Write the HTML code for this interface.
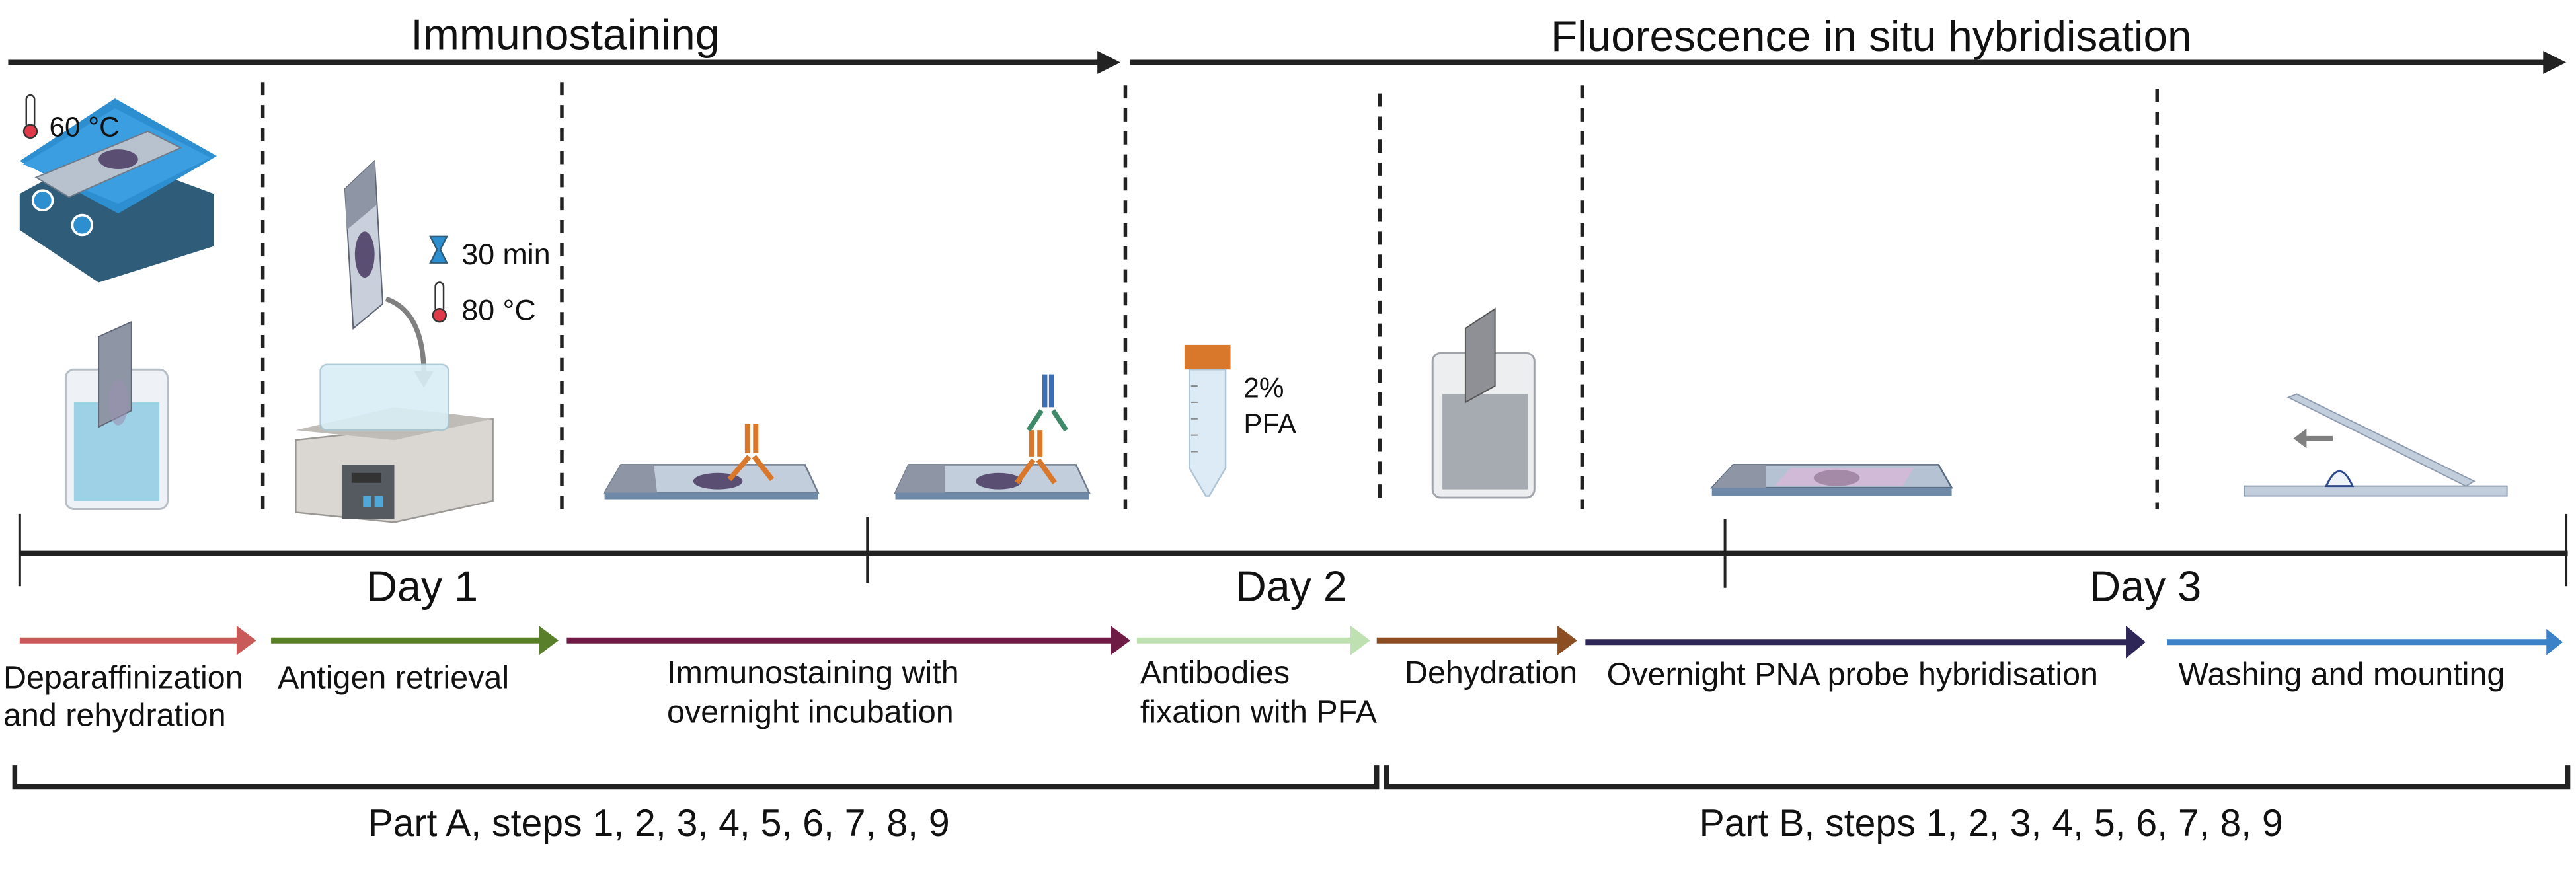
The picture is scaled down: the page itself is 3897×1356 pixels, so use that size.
<!DOCTYPE html>
<html><head><meta charset="utf-8"><style>
html,body{margin:0;padding:0;background:#fff;}
svg{display:block;}
text{font-family:"Liberation Sans",sans-serif;fill:#111;}
</style></head><body>
<svg width="3897" height="1356" viewBox="0 0 1568 545.6" xmlns="http://www.w3.org/2000/svg">
<!-- top arrows -->
<line x1="5" y1="38" x2="670" y2="38" stroke="#222" stroke-width="3.2"/>
<polygon points="668,31 682,38 668,45" fill="#222"/>
<line x1="688" y1="38" x2="1550" y2="38" stroke="#222" stroke-width="3.2"/>
<polygon points="1548,31 1562,38 1548,45" fill="#222"/>
<text x="344" y="30" font-size="26" text-anchor="middle" textLength="188" lengthAdjust="spacingAndGlyphs">Immunostaining</text>
<text x="1139" y="31" font-size="26" text-anchor="middle" textLength="390" lengthAdjust="spacingAndGlyphs">Fluorescence in situ hybridisation</text>

<!-- dashed separators -->
<g stroke="#222" stroke-width="2.2" stroke-dasharray="8,6">
<line x1="160" y1="50" x2="160" y2="312"/>
<line x1="342" y1="50" x2="342" y2="316"/>
<line x1="685" y1="52" x2="685" y2="310"/>
<line x1="840" y1="57" x2="840" y2="308"/>
<line x1="963" y1="52" x2="963" y2="310"/>
<line x1="1313" y1="54" x2="1313" y2="310"/>
</g>

<!-- timeline -->
<line x1="12" y1="337" x2="1563" y2="337" stroke="#222" stroke-width="3.2"/>
<g stroke="#222" stroke-width="1.6">
<line x1="12" y1="313" x2="12" y2="357"/>
<line x1="528" y1="315" x2="528" y2="355"/>
<line x1="1050" y1="316" x2="1050" y2="358"/>
<line x1="1562" y1="313" x2="1562" y2="357"/>
</g>
<text x="257" y="366" font-size="26" text-anchor="middle">Day 1</text>
<text x="786" y="366" font-size="26" text-anchor="middle">Day 2</text>
<text x="1306" y="366" font-size="26" text-anchor="middle">Day 3</text>

<!-- colored step arrows -->
<g stroke-width="3.6">
<line x1="12" y1="390" x2="146" y2="390" stroke="#c85a5a"/>
<line x1="165" y1="390" x2="330" y2="390" stroke="#5a7f2a"/>
<line x1="345" y1="390" x2="678" y2="390" stroke="#6e1c45"/>
<line x1="692" y1="390" x2="824" y2="390" stroke="#bfe0b0"/>
<line x1="838" y1="390" x2="950" y2="390" stroke="#8a4e22"/>
<line x1="965" y1="391" x2="1296" y2="391" stroke="#2e2656"/>
<line x1="1319" y1="391" x2="1552" y2="391" stroke="#3b82c9"/>
</g>
<polygon points="144,381 156,390 144,399" fill="#c85a5a"/>
<polygon points="328,381 340,390 328,399" fill="#5a7f2a"/>
<polygon points="676,381 688,390 676,399" fill="#6e1c45"/>
<polygon points="822,381 834,390 822,399" fill="#bfe0b0"/>
<polygon points="948,381 960,390 948,399" fill="#8a4e22"/>
<polygon points="1294,381 1306,391 1294,401" fill="#2e2656"/>
<polygon points="1550,383 1560,391 1550,399" fill="#3b82c9"/>

<g font-size="19.5">
<text x="2" y="419">Deparaffinization</text>
<text x="2" y="442">and rehydration</text>
<text x="169" y="419">Antigen retrieval</text>
<text x="406" y="416">Immunostaining with</text>
<text x="406" y="440">overnight incubation</text>
<text x="694" y="416">Antibodies</text>
<text x="694" y="440">fixation with PFA</text>
<text x="855" y="416">Dehydration</text>
<text x="978" y="417">Overnight PNA probe hybridisation</text>
<text x="1326" y="417">Washing and mounting</text>
</g>

<!-- brackets -->
<path d="M9,466 V479 H838 V466" fill="none" stroke="#222" stroke-width="3"/>
<path d="M844,466 V479 H1563 V466" fill="none" stroke="#222" stroke-width="3"/>
<text x="401" y="509" font-size="23" text-anchor="middle">Part A, steps 1, 2, 3, 4, 5, 6, 7, 8, 9</text>
<text x="1212" y="509" font-size="23" text-anchor="middle">Part B, steps 1, 2, 3, 4, 5, 6, 7, 8, 9</text>

<!-- hotplate -->
<polygon points="12,118 60,92 130,118 130,150 60,172 12,140" fill="#2f5c78"/>
<polygon points="12,98 70,60 132,95 72,130" fill="#2d8fd0"/>
<polygon points="14,100 70,66 128,96 72,124" fill="#3a9ee0"/>
<polygon points="22,108 90,80 110,90 42,120" fill="#b8c2cf" stroke="#6f7b8a" stroke-width="0.8"/>
<ellipse cx="72" cy="97" rx="12" ry="6" fill="#5a4e72"/>
<circle cx="26" cy="122" r="6" fill="#2d8fd0" stroke="#fff" stroke-width="1.5"/>
<circle cx="50" cy="137" r="6" fill="#2d8fd0" stroke="#fff" stroke-width="1.5"/>
<rect x="16" y="58" width="5" height="20" rx="2.5" fill="#fff" stroke="#333" stroke-width="1"/>
<circle cx="18.5" cy="80" r="4" fill="#e03a4a" stroke="#333" stroke-width="1"/>
<text x="30" y="83" font-size="17">60 °C</text>

<!-- staining jar 1 -->
<rect x="40" y="225" width="62" height="85" rx="5" fill="#eef2f6" stroke="#b8bec6" stroke-width="1.2"/>
<rect x="45" y="245" width="52" height="60" fill="#8fcbe2" opacity="0.85"/>
<polygon points="60,205 80,196 80,250 60,260" fill="#8e96a6" stroke="#5f6676" stroke-width="0.8"/>
<ellipse cx="72" cy="245" rx="6" ry="14" fill="#9a8fb0" opacity="0.6"/>

<!-- vertical slide + water bath -->
<polygon points="210,115 228,98 233,185 215,200" fill="#c9d0dc" stroke="#5f6676" stroke-width="0.8"/>
<polygon points="210,115 228,98 229,125 211,140" fill="#8e96a6"/>
<ellipse cx="222" cy="155" rx="6" ry="14" fill="#5a4e72"/>
<path d="M235,182 Q258,190 258,228" fill="none" stroke="#808080" stroke-width="3"/>
<polygon points="252,226 264,226 258,236" fill="#808080"/>
<polygon points="262,144 272,144 268,152 272,160 262,160 266,152" fill="#2d8fd0" stroke="#2f5c78" stroke-width="1"/>
<text x="281" y="161" font-size="18">30 min</text>
<rect x="265" y="172" width="5" height="18" rx="2.5" fill="#fff" stroke="#333" stroke-width="1"/>
<circle cx="267.5" cy="192" r="4" fill="#e03a4a" stroke="#333" stroke-width="1"/>
<text x="281" y="195" font-size="18">80 °C</text>
<polygon points="180,268 300,255 300,305 240,318 180,312" fill="#dad7d3" stroke="#9a9894" stroke-width="1"/>
<polygon points="180,262 240,248 300,255 240,268" fill="#bfbcb8"/>
<rect x="195" y="222" width="78" height="40" rx="4" fill="#d9eef6" stroke="#a9c7d3" stroke-width="1" opacity="0.9"/>
<rect x="208" y="283" width="32" height="33" fill="#555a60"/>
<rect x="214" y="288" width="18" height="6" fill="#333"/>
<rect x="221" y="302" width="5" height="7" fill="#50a8d8"/>
<rect x="228" y="302" width="5" height="7" fill="#50a8d8"/>

<!-- slide 3 -->
<polygon points="378,283 490,283 498,300 368,300" fill="#c3cedd" stroke="#6f7b8a" stroke-width="1"/>
<rect x="368" y="300" width="130" height="4" fill="#6f8aa8"/>
<polygon points="378,283 398,283 400,300 368,300" fill="#8e96a6"/>
<ellipse cx="437" cy="293" rx="15" ry="5" fill="#5a4e72"/>
<g stroke="#d9782a" stroke-width="3.2" fill="none">
<line x1="455" y1="258" x2="455" y2="276"/><line x1="460" y1="258" x2="460" y2="276"/>
<line x1="456" y1="278" x2="444" y2="292"/><line x1="459" y1="278" x2="470" y2="292"/>
</g>

<!-- slide 4 -->
<polygon points="553,283 655,283 663,300 545,300" fill="#c3cedd" stroke="#6f7b8a" stroke-width="1"/>
<rect x="545" y="300" width="118" height="4" fill="#6f8aa8"/>
<polygon points="553,283 575,283 575,300 545,300" fill="#8e96a6"/>
<ellipse cx="608" cy="293" rx="14" ry="5" fill="#5a4e72"/>
<g stroke="#d9782a" stroke-width="3.2" fill="none">
<line x1="628" y1="262" x2="628" y2="278"/><line x1="633" y1="262" x2="633" y2="278"/>
<line x1="629" y1="280" x2="619" y2="294"/><line x1="632" y1="280" x2="642" y2="294"/>
</g>
<g stroke="#3a6fb8" stroke-width="3" fill="none">
<line x1="636" y1="228" x2="636" y2="248"/><line x1="640" y1="228" x2="640" y2="248"/>
</g>
<g stroke="#3f8a6a" stroke-width="3" fill="none">
<line x1="634" y1="250" x2="626" y2="262"/><line x1="641" y1="250" x2="649" y2="262"/>
</g>

<!-- tube -->
<rect x="721" y="210" width="28" height="15" fill="#d9782a"/>
<path d="M724,225 H746 V285 L736,302 L734,302 L724,285 Z" fill="#dcebf6" stroke="#b0c4d4" stroke-width="1"/>
<g stroke="#888" stroke-width="0.8">
<line x1="725" y1="235" x2="729" y2="235"/><line x1="725" y1="245" x2="729" y2="245"/><line x1="725" y1="255" x2="729" y2="255"/><line x1="725" y1="265" x2="729" y2="265"/><line x1="725" y1="275" x2="729" y2="275"/>
</g>
<text x="757" y="242" font-size="17">2%</text>
<text x="757" y="264" font-size="17">PFA</text>

<!-- staining jar 2 -->
<rect x="872" y="215" width="62" height="88" rx="5" fill="#eceef0" stroke="#a0a4aa" stroke-width="1.2"/>
<rect x="878" y="240" width="52" height="58" fill="#9a9ea6" opacity="0.85"/>
<polygon points="892,200 910,188 910,235 892,245" fill="#8e9096" stroke="#555" stroke-width="0.8"/>

<!-- slide 5 -->
<polygon points="1055,283 1180,283 1188,297 1042,297" fill="#b4c2d4" stroke="#5a6a80" stroke-width="1"/>
<rect x="1042" y="297" width="146" height="5" fill="#6f8aa8"/>
<polygon points="1055,283 1075,283 1075,297 1042,297" fill="#8e96a6"/>
<polygon points="1090,285 1165,285 1158,296 1080,296" fill="#d8b6d8" opacity="0.8"/>
<ellipse cx="1118" cy="291" rx="14" ry="5" fill="#a58aa8"/>

<!-- mounting -->
<rect x="1366" y="296" width="160" height="6" fill="#c3cedd" stroke="#8f9cb0" stroke-width="0.8"/>
<polygon points="1393,242 1398,240 1506,293 1501,296" fill="#c3cedd" stroke="#8f9cb0" stroke-width="0.8"/>
<path d="M1416,296 Q1424,278 1432,296 Z" fill="#eef3fb" stroke="#2e4a8a" stroke-width="1.2"/>
<line x1="1402" y1="267" x2="1420" y2="267" stroke="#808080" stroke-width="3"/>
<polygon points="1404,261 1396,267 1404,273" fill="#808080"/>
</svg>
</body></html>
